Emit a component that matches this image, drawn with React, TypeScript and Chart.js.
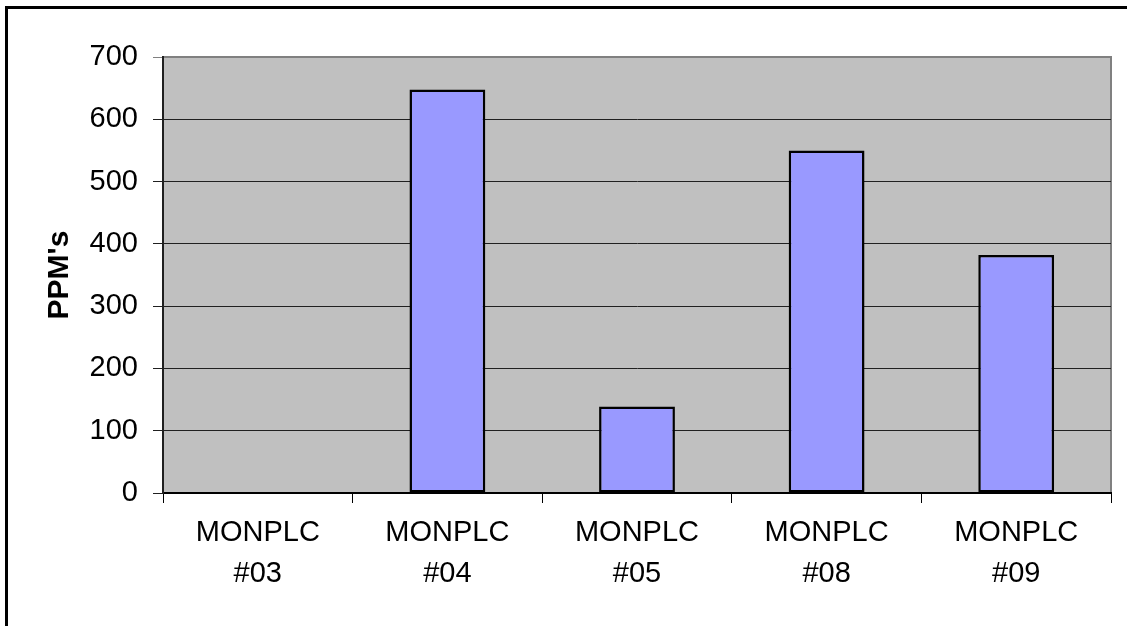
import React, { useEffect, useRef } from "react";
import { Chart, registerables } from "chart.js";

Chart.register(...registerables);

const categories: string[][] = [
  ["MONPLC", "#03"],
  ["MONPLC", "#04"],
  ["MONPLC", "#05"],
  ["MONPLC", "#08"],
  ["MONPLC", "#09"],
];
const ppmValues: number[] = [0, 648, 139, 550, 382];
const yMin = 0;
const yMax = 700;
const yStep = 100;
const yTitle = "PPM's";

const FONT = "'Liberation Sans', Arial, sans-serif";

// Grey plot area with a darker grey frame, drawn beneath the bars and grid.
const plotBackground = {
  id: "plotBackground",
  beforeDraw(chart: Chart) {
    const { ctx, chartArea } = chart;
    if (!chartArea) return;
    ctx.save();
    ctx.fillStyle = "#C0C0C0";
    ctx.fillRect(chartArea.left, chartArea.top, chartArea.right - chartArea.left, chartArea.bottom - chartArea.top);
    ctx.strokeStyle = "#808080";
    ctx.lineWidth = 2;
    ctx.strokeRect(chartArea.left, chartArea.top, chartArea.right - chartArea.left, chartArea.bottom - chartArea.top);
    ctx.restore();
  },
};

export default function App() {
  const canvasRef = useRef<HTMLCanvasElement | null>(null);

  useEffect(() => {
    if (!canvasRef.current) return;
    const chart = new Chart(canvasRef.current, {
      type: "bar",
      data: {
        labels: categories,
        datasets: [
          {
            data: ppmValues,
            backgroundColor: "#9999FF",
            borderColor: "#000000",
            borderWidth: 2.5,
            borderSkipped: false,
            categoryPercentage: 1,
            barPercentage: 0.4,
          },
        ],
      },
      options: {
        responsive: false,
        animation: false,
        layout: { padding: { left: 35, top: 57, right: 16, bottom: 0 } },
        plugins: {
          legend: { display: false },
          tooltip: { enabled: false },
        },
        scales: {
          x: {
            offset: true,
            grid: {
              offset: true,
              drawOnChartArea: false,
              drawTicks: true,
              tickLength: 10,
              color: "#000000",
              lineWidth: 1,
            },
            border: { display: true, color: "#000000", width: 2 },
            ticks: {
              color: "#000000",
              font: { family: FONT, size: 29, lineHeight: 1.4 },
              padding: 10,
              maxRotation: 0,
              autoSkip: false,
            },
            afterFit: (scale: any) => {
              scale.height = 133;
            },
          },
          y: {
            min: yMin,
            max: yMax,
            grid: {
              color: (c: any) => (c.tick && c.tick.value === yMax ? "#808080" : "#202020"),
              lineWidth: 1,
              drawTicks: true,
              tickLength: 10,
            },
            border: { display: true, color: "#202020", width: 2 },
            ticks: {
              stepSize: yStep,
              color: "#000000",
              font: { family: FONT, size: 29 },
              padding: 15,
            },
            title: {
              display: true,
              text: yTitle,
              color: "#000000",
              font: { family: FONT, size: 30, weight: "bold" },
              padding: { top: 7, bottom: 0 },
            },
            afterFit: (scale: any) => {
              scale.width = 128;
            },
          },
        },
      },
      plugins: [plotBackground],
    });
    return () => chart.destroy();
  }, []);

  return (
    <div
      style={{
        position: "absolute",
        left: 0,
        top: 0,
        width: 1127,
        height: 626,
        background: "#ffffff",
        overflow: "hidden",
      }}
    >
      <canvas ref={canvasRef} width={1127} height={626} style={{ display: "block" }} />
      <div
        style={{
          position: "absolute",
          left: 5,
          top: 6,
          width: 1200,
          height: 700,
          borderTop: "3px solid #000",
          borderLeft: "3px solid #000",
          pointerEvents: "none",
        }}
      />
    </div>
  );
}
